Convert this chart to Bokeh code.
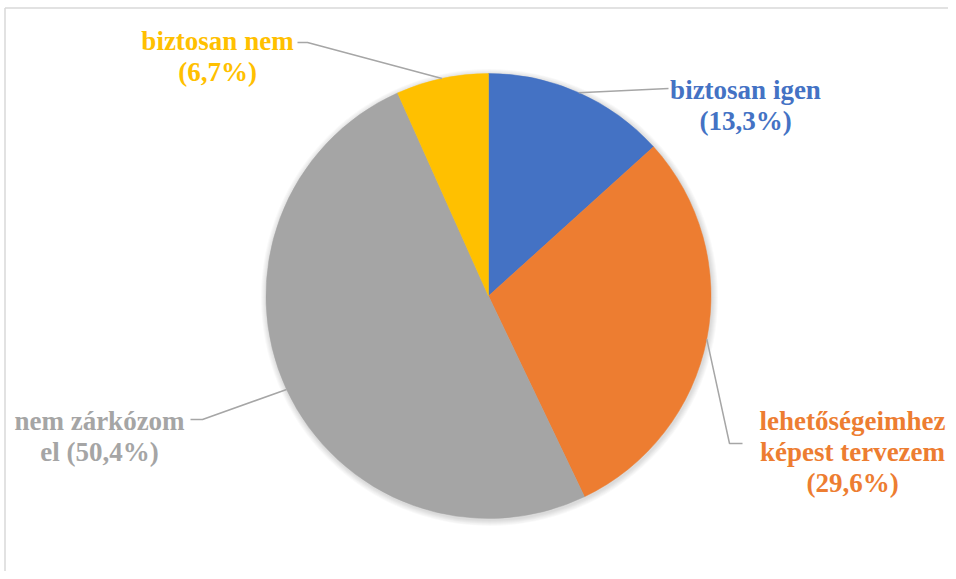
import math
from bokeh.plotting import figure
from bokeh.models import Range1d, ColumnDataSource
from bokeh.core.properties import value
from bokeh.embed import file_html
from bokeh.resources import INLINE

# ---- data ----
categories = ["biztosan igen", "lehetőségeimhez képest tervezem", "nem zárkózom el", "biztosan nem"]
values = [13.3, 29.6, 50.4, 6.7]
colors = ["#4472C4", "#ED7D31", "#A5A5A5", "#FFC000"]

# ---- layout (pixel coordinates of the reference, y down) ----
W, H = 948, 571
CX, CY, R = 488, 295.5, 222.5
FONT = "Liberation Serif"
FS = 27
LINE_H = 31

def fy(y):  # reference pixel y -> data y
    return H - y

label_lines = [
    ["biztosan igen", "({pct})"],
    ["lehetőségeimhez", "képest tervezem", "({pct})"],
    ["nem zárkózom", "el ({pct})"],
    ["biztosan nem", "({pct})"],
]
label_cx = [745, 852, 99, 217]
label_base = [89, 420, 420, 40]
leader_pts = [
    [(668, 88)],
    [(729, 443), (742, 443)],
    [(202, 419), (190, 419)],
    [(307, 42), (297, 42)],
]

p = figure(width=W, height=H, output_backend="svg", toolbar_location=None,
           x_range=Range1d(0, W), y_range=Range1d(0, H),
           min_border=0, background_fill_color="white", border_fill_color="white")
p.axis.visible = False
p.grid.visible = False
p.outline_line_color = None

# chart border (top and left edges visible)
p.segment(x0=[4.5, 4.5], y0=[fy(7.5), fy(7.5)], x1=[W, 4.5], y1=[fy(7.5), 0],
          line_color="#D9D9D9", line_width=1.5)

# soft shadow
for i in range(1, 7):
    p.circle(x=[CX + 1], y=[fy(CY) - 1.5], radius=R + i, fill_color="black",
             fill_alpha=0.025, line_color=None)

# wedges
total = sum(values)
cum = [0]
for v in values:
    cum.append(cum[-1] + v)
starts = [math.pi / 2 - 2 * math.pi * cum[i + 1] / total for i in range(len(values))]
ends = [math.pi / 2 - 2 * math.pi * cum[i] / total for i in range(len(values))]
src = ColumnDataSource(dict(x=[CX] * len(values), y=[fy(CY)] * len(values),
                            start=starts, end=ends, color=colors))
p.wedge(x="x", y="y", radius=R, start_angle="start", end_angle="end",
        direction="anticlock", fill_color="color", line_color="color", line_width=0.5,
        source=src)

# leader lines and labels
for i, v in enumerate(values):
    mid = 2 * math.pi * (cum[i] + v / 2) / total  # clockwise from top
    ex = CX + R * math.sin(mid)
    ey = CY - R * math.cos(mid)
    xs = [ex] + [pt[0] for pt in leader_pts[i]]
    ys = [fy(ey)] + [fy(pt[1]) for pt in leader_pts[i]]
    p.line(xs, ys, line_color="#A6A6A6", line_width=1.5)
    pct = ("%.1f" % v).replace(".", ",") + "%"
    lines = [ln.format(pct=pct) for ln in label_lines[i]]
    p.text(x=[label_cx[i]] * len(lines),
           y=[fy(label_base[i] + k * LINE_H) for k in range(len(lines))],
           text=lines, text_align="center", text_baseline="alphabetic",
           text_font=value(FONT), text_font_style="bold", text_font_size=f"{FS}px",
           text_color=colors[i])

open("out.html", "w").write(file_html(p, INLINE))
